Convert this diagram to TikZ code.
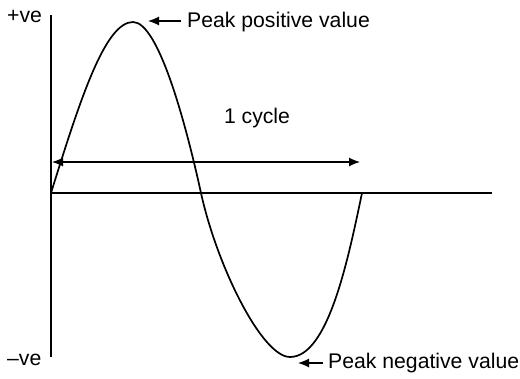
\documentclass[tikz,border=0pt]{standalone}
\usepackage{fontspec}
\setmainfont{Liberation Sans}
\usetikzlibrary{arrows.meta}
\begin{document}
\begin{tikzpicture}[x=1pt,y=-1pt,
  lbl/.style={inner sep=0pt,font=\fontsize{21.2}{25}\selectfont},
  axis/.style={line width=1.2pt},
  wave/.style={line width=1.7pt},
  ptr/.style={line width=1.2pt,-{Latex[length=11pt,width=9pt]}},
  dptr/.style={line width=1.2pt,{Latex[length=11pt,width=9pt]}-{Latex[length=11pt,width=9pt]}}]
\useasboundingbox (0,0) rectangle (520,378);
% axes
\coordinate (ytop) at (51,15);
\coordinate (ybot) at (51,357);
\coordinate (o) at (51,193);
\coordinate (xend) at (492,193);
\draw[axis] (ytop) -- (ybot);
\draw[axis] (o) -- (xend);
% wave
\coordinate (pk) at (133,22);
\coordinate (z) at (201,193);
\coordinate (tr) at (290,357);
\coordinate (e) at (362,193);
\draw[wave] (o) .. controls (80,100) and (105,22) .. (pk)
  .. controls (158,22) and (185,120) .. (z)
  .. controls (217,266) and (262,357) .. (tr)
  .. controls (328,357) and (348,260) .. (e);
% labels
\node[lbl,anchor=base west] (pv) at (7,22) {+ve};
\node[lbl,anchor=base west] (nv) at (7,365) {–ve};
\node[lbl,anchor=base west] (ppv) at (187,27) {Peak positive value};
\node[lbl,anchor=base west] (pnv) at (328,368) {Peak negative value};
\node[lbl,anchor=base] (cyc) at (257,123) {1 cycle};
% pointers
\coordinate (pptip) at (148,21);
\coordinate (pptail) at (181,21);
\draw[ptr] (pptail) -- (pptip);
\coordinate (pntip) at (298,363);
\coordinate (pntail) at (323,363);
\draw[ptr] (pntail) -- (pntip);
\coordinate (ca) at (52,162);
\coordinate (cb) at (360,162);
\draw[dptr] (ca) -- (cb);
\end{tikzpicture}
\end{document}
